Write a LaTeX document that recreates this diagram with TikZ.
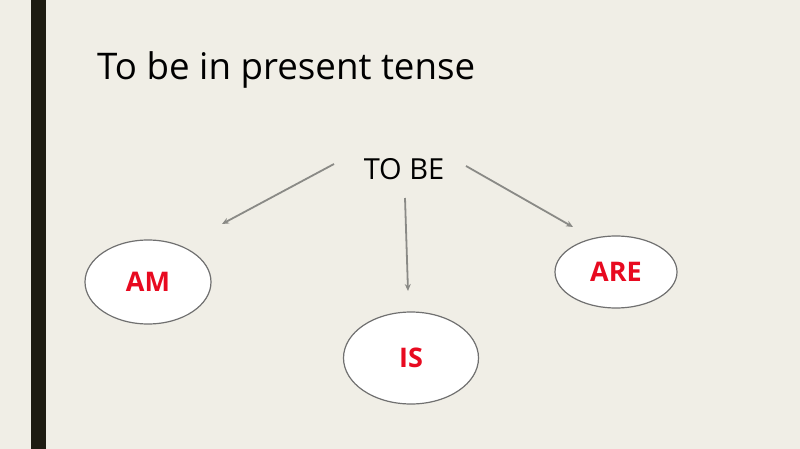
\documentclass[tikz,border=0pt]{standalone}
\usepackage{fontspec}
\setmainfont{Open Sans}
\usetikzlibrary{shapes.geometric,arrows.meta}
\definecolor{bg}{HTML}{F0EEE6}
\definecolor{bar}{HTML}{1E1C12}
\definecolor{lbl}{HTML}{E80A20}
\definecolor{arr}{HTML}{8A8A86}
\definecolor{ell}{HTML}{707070}
\tikzset{
  verb/.style={ellipse, draw=ell, line width=1.2pt, fill=white, inner sep=0pt,
    font=\fontsize{27}{30}\selectfont\bfseries, text=lbl},
  link/.style={draw=arr, line width=1.8pt, -{Stealth[length=7pt,width=6pt]}},
}
\begin{document}
\begin{tikzpicture}[x=1pt,y=-1pt]
\useasboundingbox (0,0) rectangle (800,449);
\fill[bg] (0,0) rectangle (800,449);
\fill[bar] (31,0) rectangle (46,449);
\node[anchor=base west, inner sep=0pt, font=\fontsize{36.7}{40}\selectfont] (title) at (97,80) {To be in present tense};
\node[inner sep=0pt, font=\fontsize{29}{32}\selectfont] (tobe) at (404,169) {TO BE};
\node[verb, minimum width=126pt, minimum height=84pt] (am) at (148,282) {AM};
\node[verb, minimum width=135pt, minimum height=92pt] (is) at (411,358) {IS};
\node[verb, minimum width=122pt, minimum height=72pt] (are) at (616,272) {ARE};
\coordinate (s1) at (334,164); \coordinate (e1) at (222,224);
\coordinate (s2) at (405,198); \coordinate (e2) at (408,291);
\coordinate (s3) at (466,166); \coordinate (e3) at (573,227);
\draw[link] (s1) -- (e1);
\draw[link] (s2) -- (e2);
\draw[link] (s3) -- (e3);
\end{tikzpicture}
\end{document}
